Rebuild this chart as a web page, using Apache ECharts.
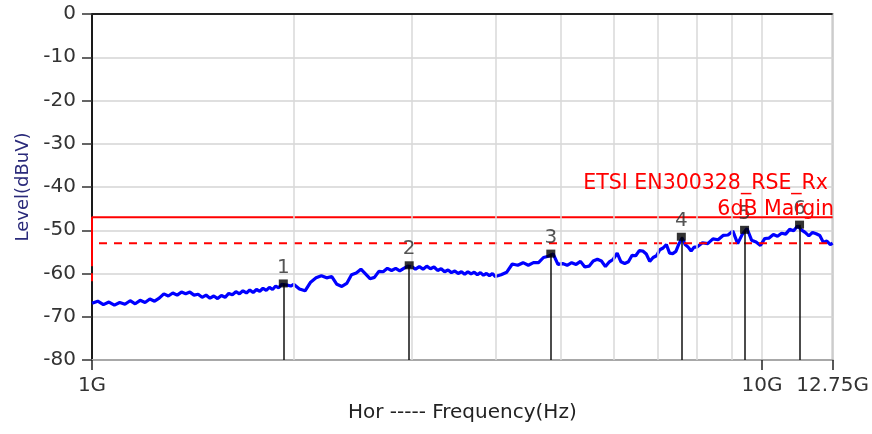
<!DOCTYPE html>
<html><head><meta charset="utf-8">
<script src="https://cdn.jsdelivr.net/npm/echarts@6/dist/echarts.min.js"></script>
<style>html,body{margin:0;padding:0;background:#fff}#c{width:872px;height:434px}</style>
</head><body><div id="c"></div>
<script>
// Frequencies in GHz and measured levels in dBuV (trace)
const freqGHz = [
1.00,1.02,1.04,1.06,1.08,1.10,1.12,1.14,1.16,1.18,1.20,1.22,1.24,1.26,1.28,1.30,1.32,1.34,1.36,1.38,
1.40,1.42,1.44,1.46,1.48,1.50,1.52,1.54,1.56,1.58,1.60,1.62,1.64,1.66,1.68,1.70,1.72,1.74,1.76,1.78,
1.80,1.82,1.84,1.86,1.88,1.90,1.92,1.94,1.96,1.98,2.00,
2.04,2.08,2.12,2.16,2.20,2.24,2.28,2.32,2.36,2.40,2.44,2.48,2.52,2.56,2.60,2.64,2.68,2.72,2.76,2.80,
2.84,2.88,2.92,2.96,3.00,3.04,3.08,3.12,3.16,3.20,3.24,3.28,3.32,3.36,3.40,3.44,3.48,3.52,3.56,3.60,
3.64,3.68,3.72,3.76,3.80,3.84,3.88,3.92,3.96,4.00,
4.08,4.16,4.24,4.32,4.40,4.48,4.56,4.64,4.72,4.80,4.88,4.96,5.04,5.12,5.20,5.28,5.36,5.44,5.52,5.60,
5.68,5.76,5.84,5.92,6.00,6.08,6.16,6.24,6.32,6.40,6.48,6.56,6.64,6.72,6.80,6.88,6.96,7.04,7.12,7.20,
7.28,7.36,7.44,7.52,7.60,7.68,7.76,7.84,7.92,8.00,
8.15,8.30,8.45,8.60,8.75,8.90,9.05,9.20,9.35,9.50,9.65,9.80,9.95,10.10,10.25,10.40,10.55,10.70,10.85,11.00,
11.15,11.30,11.45,11.60,11.75,11.90,12.05,12.20,12.35,12.50,12.65,12.75
];
const levelDbuV = [
-66.9,-66.4,-67.2,-66.6,-67.3,-66.7,-67.1,-66.3,-67.0,-66.2,-66.7,-65.9,-66.4,-65.7,-64.7,-65.2,-64.5,-65.0,-64.3,-64.7,
-64.3,-65.0,-64.8,-65.5,-65.0,-65.7,-65.2,-65.8,-65.1,-65.5,-64.6,-64.9,-64.2,-64.7,-64.0,-64.5,-63.8,-64.4,-63.7,-64.1,
-63.4,-63.9,-63.2,-63.7,-62.9,-63.3,-62.5,-62.6,-62.7,-62.9,-62.5,
-63.6,-64.0,-62.0,-61.0,-60.5,-61.0,-60.7,-62.5,-63.0,-62.3,-60.3,-59.9,-59.0,-60.1,-61.2,-60.9,-59.5,-59.6,-58.8,-59.3,
-58.8,-59.4,-58.8,-58.3,-58.4,-59.0,-58.4,-59.0,-58.3,-58.9,-58.5,-59.3,-58.9,-59.6,-59.2,-59.8,-59.4,-60.0,-59.6,-60.2,
-59.6,-60.1,-59.7,-60.3,-59.8,-60.4,-60.0,-60.5,-60.0,-60.7,
-60.3,-59.7,-57.8,-58.1,-57.5,-58.1,-57.5,-57.5,-56.3,-56.0,-55.5,-57.9,-57.7,-58.1,-57.5,-57.9,-57.2,-58.5,-58.3,-57.1,
-56.7,-57.1,-58.4,-57.3,-56.7,-55.3,-57.3,-57.7,-57.3,-55.8,-55.9,-54.7,-54.8,-55.5,-57.2,-56.3,-55.9,-54.5,-54.1,-53.3,
-55.3,-55.4,-54.9,-53.1,-51.8,-53.3,-53.9,-54.8,-53.9,-53.9,
-52.9,-53.1,-52.0,-52.2,-51.2,-51.1,-50.2,-53.1,-50.9,-49.6,-52.3,-52.7,-53.5,-51.9,-51.8,-51.0,-51.4,-50.7,-50.9,-49.8,
-50.1,-49.0,-49.9,-50.5,-51.3,-50.5,-50.8,-51.2,-52.8,-52.5,-53.3,-53.0
];
// Markers
const markerNames = ['1','2','3','4','5','6'];
const markerFreqGHz = [1.93, 2.975, 4.84, 7.58, 9.42, 11.38];
const markerLevel = [-62.3, -58.1, -55.4, -51.5, -49.9, -48.7];
// Limit lines
const limitFreqGHz = [1, 1, 12.75];
const limitLevel = [-57, -47, -47];
const marginVertFreqGHz = [1, 1];
const marginVertLevel = [-53, -63];
const marginFreqGHz = [1, 12.75];
const marginLevel = [-53, -53];
const limitName = 'ETSI EN300328_RSE_Rx';
const marginName = '6dB Margin';
// Axis
const xMinGHz = 1, xMaxGHz = 12.75;
const yMin = -80, yMax = 0, yStep = 10;
const minorGridGHz = [2, 3, 4, 5, 6, 7, 8, 9];

const FONT = 'DejaVu Sans';
const pairs = (xs, ys) => xs.map((x, i) => [x, ys[i]]);

const chart = echarts.init(document.getElementById('c'), null, {renderer: 'canvas'});
chart.setOption({
  animation: false,
  backgroundColor: '#ffffff',
  grid: {left: 92, right: 39, top: 14, bottom: 74, show: true, borderColor: '#a8a8a8', borderWidth: 2, backgroundColor: 'transparent'},
  xAxis: {
    type: 'log', logBase: 10, min: xMinGHz, max: xMaxGHz,
    axisLine: {show: true, onZero: false, lineStyle: {color: '#a8a8a8', width: 2}},
    axisTick: {show: true, inside: false, length: 10, lineStyle: {color: '#222', width: 1.5}},
    axisLabel: {color: '#333', fontSize: 20, fontFamily: FONT, margin: 16,
      formatter: v => (Math.round(v * 100) / 100) + 'G'},
    splitLine: {show: true, lineStyle: {color: '#d9d9d9', width: 1.5}},
    minorTick: {show: false}, minorSplitLine: {show: false},
    name: 'Hor ----- Frequency(Hz)', nameLocation: 'middle', nameGap: 43,
    nameTextStyle: {color: '#222', fontSize: 20, fontFamily: FONT}
  },
  yAxis: {
    type: 'value', min: yMin, max: yMax, interval: yStep,
    axisLine: {show: true, onZero: false, lineStyle: {color: '#1a1a1a', width: 2}},
    axisTick: {show: true, length: 10, lineStyle: {color: '#333', width: 1.5}},
    axisLabel: {color: '#333', fontSize: 20, fontFamily: FONT, margin: 16},
    splitLine: {show: true, lineStyle: {color: '#d4d4d4', width: 1.5}},
    name: 'Level(dBuV)', nameLocation: 'middle', nameGap: 60,
    nameTextStyle: {color: '#2a2a7a', fontSize: 18, fontFamily: FONT}
  },
  series: [
    {
      type: 'line', data: [], silent: true, z: 1,
      markLine: {silent: true, symbol: 'none', label: {show: false}, animation: false,
        lineStyle: {color: '#d9d9d9', width: 1.5, type: 'solid'},
        data: minorGridGHz.map(f => ({xAxis: f}))}
    },
    {
      type: 'line', data: [], silent: true, z: 2,
      markLine: {silent: true, symbol: 'none', label: {show: false}, animation: false,
        lineStyle: {color: '#222', width: 2, type: 'solid'},
        data: [{yAxis: yMax}]}
    },
    {
      name: 'trace', type: 'line', data: pairs(freqGHz, levelDbuV), showSymbol: false, z: 3,
      lineStyle: {color: '#0000ff', width: 3.2}
    },
    {
      name: limitName, type: 'line', data: pairs(limitFreqGHz, limitLevel), showSymbol: false, z: 4, clip: false,
      lineStyle: {color: '#ff0000', width: 2}
    },
    {
      type: 'line', data: pairs(marginVertFreqGHz, marginVertLevel), showSymbol: false, z: 4, clip: false,
      lineStyle: {color: '#ff0000', width: 2, type: [8, 7]}
    },
    {
      name: marginName, type: 'line', data: pairs(marginFreqGHz, marginLevel), showSymbol: false, z: 4,
      lineStyle: {color: '#ff0000', width: 2, type: [8, 7], dashOffset: 8}
    },
    {
      type: 'scatter', z: 6, symbol: 'rect', symbolSize: [9, 8],
      itemStyle: {color: '#000'},
      data: markerFreqGHz.map((f, i) => ({name: markerNames[i], value: [f, markerLevel[i]]})),
      label: {show: true, position: 'top', distance: 2, formatter: p => p.name,
        color: '#2a2a2a', fontSize: 20, fontFamily: FONT},
      markLine: {silent: true, symbol: 'none', label: {show: false}, animation: false,
        lineStyle: {color: '#111', width: 1.5, type: 'solid'},
        data: markerFreqGHz.map((f, i) => [{coord: [f, yMin]}, {coord: [f, markerLevel[i]]}])}
    }
  ],
  graphic: [
    {type: 'text', right: 44, top: 173, z: 10,
      style: {text: limitName, fill: '#ff0000', fontSize: 20.5, fontFamily: FONT}},
    {type: 'text', right: 38, top: 199, z: 10,
      style: {text: marginName, fill: '#ff0000', fontSize: 20.5, fontFamily: FONT}}
  ]
});
</script></body></html>
